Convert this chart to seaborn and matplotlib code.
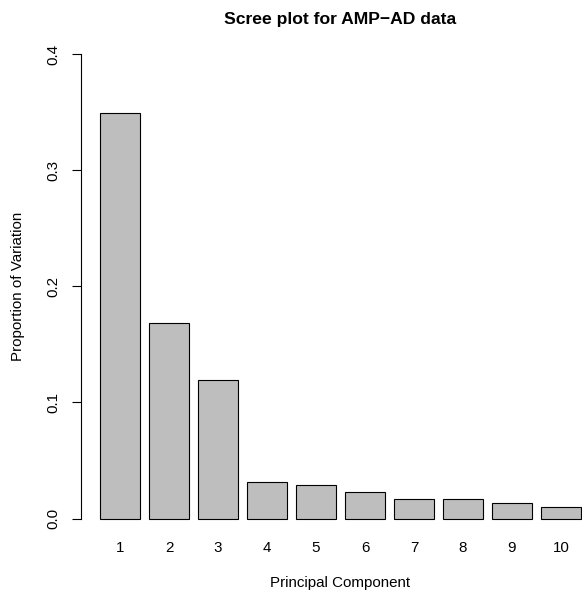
import matplotlib
matplotlib.use("Agg")
import matplotlib.pyplot as plt
import seaborn as sns
import pandas as pd

components = ["1", "2", "3", "4", "5", "6", "7", "8", "9", "10"]
proportion = [0.349, 0.168, 0.1197, 0.0312, 0.0286, 0.0226, 0.0168, 0.0166, 0.0131, 0.0102]
y_ticks = [0.0, 0.1, 0.2, 0.3, 0.4]
y_tick_labels = ["0.0", "0.1", "0.2", "0.3", "0.4"]

sns.set_style("white")
plt.rcParams["font.family"] = ["Liberation Sans", "DejaVu Sans"]
plt.rcParams["text.color"] = "black"
plt.rcParams["axes.labelcolor"] = "black"
plt.rcParams["xtick.color"] = "black"
plt.rcParams["ytick.color"] = "black"

df = pd.DataFrame({"pc": components, "prop": proportion})

fig = plt.figure(figsize=(5.82, 5.94), dpi=100)
ax = fig.add_axes([80.5 / 582, 56.9 / 594, 519.5 / 582, 501.7 / 594])

sns.barplot(data=df, x="pc", y="prop", order=components, color="#BEBEBE",
            saturation=1, edgecolor="black", linewidth=0.8, width=1 / 1.2, ax=ax)

ax.set_xlim(-0.806, 9.796)
ax.set_ylim(-0.016, 0.416)

for s in ["top", "right", "bottom"]:
    ax.spines[s].set_visible(False)
ax.spines["left"].set_bounds(0, 0.4)
ax.spines["left"].set_color("black")
ax.spines["left"].set_linewidth(0.8)

ax.set_yticks(y_ticks)
ax.set_yticklabels(y_tick_labels, rotation=90, va="center", fontsize=10.9)
ax.tick_params(axis="y", left=True, length=6.5, width=0.8, pad=8, color="black",
               labelcolor="black")
ax.tick_params(axis="x", bottom=False, length=0, pad=3, labelsize=10.9,
               labelcolor="black")

ax.set_xlabel("Principal Component", fontsize=10.9, va="center", color="black")
ax.xaxis.set_label_coords(0.5, -0.0915)
ax.set_ylabel("Proportion of Variation", fontsize=10.9, va="center", color="black")
ax.yaxis.set_label_coords((18 - 80.5) / 519.5, 0.5)

ax.set_title("Scree plot for AMP\u2212AD data", fontsize=12.6, fontweight="bold",
             y=1.031, va="center", pad=0, color="black")

fig.savefig("out.png", dpi=100)
